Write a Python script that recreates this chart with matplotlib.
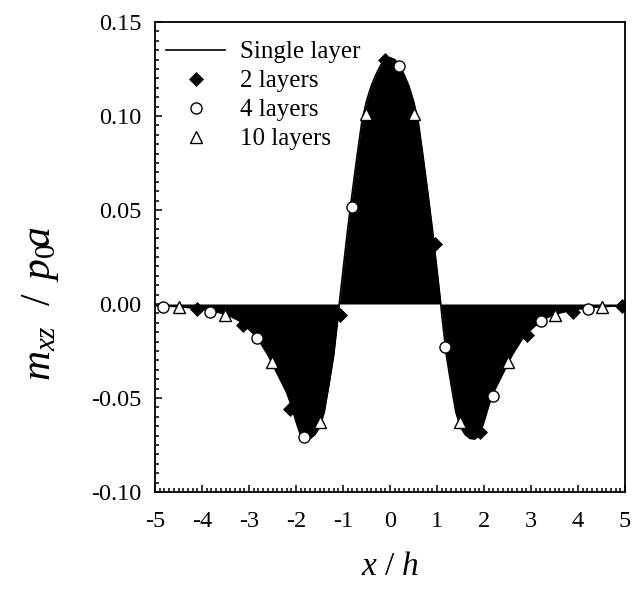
import numpy as np
import matplotlib
matplotlib.use("Agg")
import matplotlib.pyplot as plt
from matplotlib.ticker import MultipleLocator

plt.rcParams['font.family'] = ['Liberation Serif', 'DejaVu Serif']
plt.rcParams['mathtext.fontset'] = 'custom'
plt.rcParams['mathtext.rm'] = 'Liberation Serif'
plt.rcParams['mathtext.it'] = 'Liberation Serif:italic'
plt.rcParams['axes.unicode_minus'] = False

# single layer curve
x_single = [-5.0, -4.8, -4.6, -4.4, -4.2, -4.0, -3.8, -3.6, -3.4, -3.2, -3.0,
            -2.9, -2.8, -2.7, -2.6, -2.5, -2.4, -2.3, -2.2, -2.1, -2.0,
            -1.9, -1.8, -1.7, -1.6, -1.5, -1.4, -1.3, -1.2, -1.1, -1.08,
            -1.0, -0.9, -0.8, -0.7, -0.6, -0.5, -0.4, -0.3, -0.2, -0.1, 0.0,
            0.1, 0.2, 0.3, 0.4, 0.5, 0.6, 0.7, 0.8, 0.9, 1.0,
            1.08, 1.1, 1.2, 1.3, 1.4, 1.5, 1.6, 1.7, 1.8, 1.9, 2.0,
            2.1, 2.2, 2.3, 2.4, 2.5, 2.6, 2.7, 2.8, 2.9, 3.0,
            3.2, 3.4, 3.6, 3.8, 4.0, 4.2, 4.4, 4.6, 4.8, 5.0]
y_single = [-0.0008, -0.0010, -0.0013, -0.0016, -0.0021, -0.0027, -0.0036, -0.0048, -0.0065, -0.0090, -0.0135,
            -0.0160, -0.0190, -0.0230, -0.0270, -0.0320, -0.0370, -0.0420, -0.0470, -0.0540, -0.0625,
            -0.0700, -0.0718, -0.0715, -0.0695, -0.0655, -0.0575, -0.0430, -0.0275, -0.0055, 0.0,
            0.0180, 0.0400, 0.0600, 0.0790, 0.0970, 0.1080, 0.1160, 0.1220, 0.1270, 0.1300, 0.1310,
            0.1300, 0.1270, 0.1220, 0.1160, 0.1080, 0.0970, 0.0790, 0.0600, 0.0400, 0.0180,
            0.0, -0.0055, -0.0275, -0.0430, -0.0575, -0.0655, -0.0695, -0.0715, -0.0718, -0.0700, -0.0625,
            -0.0540, -0.0470, -0.0420, -0.0370, -0.0320, -0.0270, -0.0230, -0.0190, -0.0160, -0.0135,
            -0.0090, -0.0065, -0.0048, -0.0036, -0.0027, -0.0021, -0.0016, -0.0013, -0.0010, -0.0008]

# 2 layers
x_2 = [-4.11, -3.12, -2.13, -1.06, -0.11, 0.96, 1.91, 2.91, 3.90, 4.93]
y_2 = [-0.0025, -0.0110, -0.0560, -0.0060, 0.1300, 0.0320, -0.0680, -0.0165, -0.0040, -0.0010]

# 4 layers
x_4 = [-4.84, -3.83, -2.84, -1.83, -0.815, 0.20, 1.18, 2.20, 3.21, 4.21]
y_4 = [-0.0014, -0.0040, -0.0180, -0.0706, 0.0514, 0.1266, -0.0230, -0.0490, -0.0090, -0.0025]

# 10 layers
x_10 = [-4.50, -3.51, -2.52, -1.49, -0.51, 0.52, 1.49, 2.52, 3.51, 4.50]
y_10 = [-0.0014, -0.0060, -0.0310, -0.0626, 0.1010, 0.1010, -0.0626, -0.0310, -0.0060, -0.0014]

fig = plt.figure(figsize=(6.33, 5.91), dpi=100)
ax = fig.add_axes([0.2449, 0.1675, 0.7425, 0.7953])

ax.fill_between(x_single, y_single, 0, color='black', lw=0)
ax.plot(x_single, y_single, color='black', lw=1.2, label='Single layer')
ax.plot(x_2, y_2, 'D', color='black', ms=7.5, mec='black', mew=0.5, label='2 layers')
ax.plot(x_4, y_4, 'o', mfc='white', mec='black', ms=8, mew=1.0, label='4 layers')
ax.plot(x_10, y_10, '^', mfc='white', mec='black', ms=8, mew=1.0, label='10 layers')

ax.set_xlim(-5, 5)
ax.set_ylim(-0.10, 0.15)
ax.set_xticks(np.arange(-5, 6, 1))
ax.set_yticks(np.arange(-0.10, 0.151, 0.05))
ax.set_yticklabels(['%.2f' % v for v in np.arange(-0.10, 0.151, 0.05)])
ax.xaxis.set_minor_locator(MultipleLocator(0.1))
ax.yaxis.set_minor_locator(MultipleLocator(0.005))
ax.tick_params(which='both', direction='in', top=False, right=False, labelsize=17.5, width=1.1)
ax.tick_params(axis='y', pad=10)
ax.tick_params(axis='x', pad=14)
ax.tick_params(which='major', length=5)
ax.tick_params(which='minor', length=3)
for s in ax.spines.values():
    s.set_linewidth(1.3)

leg = ax.legend(loc='upper left', bbox_to_anchor=(0.0234, 0.96), frameon=False, fontsize=18,
                handlelength=2.36, handletextpad=0.6, labelspacing=0.26,
                borderaxespad=0, borderpad=0)

ax.set_xlabel('$x\\ /\\ h$', fontsize=24, labelpad=14)
ax.set_ylabel('$m_{xz}\\ \\ /\\ \\,p_0\\!a$', fontsize=30)
ax.yaxis.set_label_coords(-0.200, 0.40)

fig.savefig('out.png', dpi=100)
